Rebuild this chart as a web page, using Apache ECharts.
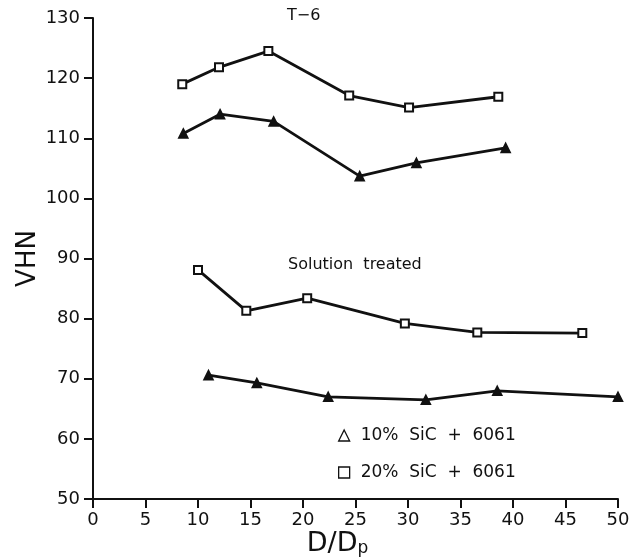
<!DOCTYPE html>
<html>
<head>
<meta charset="utf-8">
<script src="https://cdn.jsdelivr.net/npm/echarts@6/dist/echarts.min.js"></script>
<style>
html,body{margin:0;padding:0;background:#fff;}
#main{width:641px;height:559px;}
</style>
</head>
<body>
<div id="main"></div>
<script>
// D/Dp values and hardness
var xT6_20 = [8.5, 12.0, 16.7, 24.4, 30.1, 38.6];
var yT6_20 = [119.0, 121.8, 124.5, 117.1, 115.1, 116.9];
var xT6_10 = [8.6, 12.1, 17.2, 25.4, 30.8, 39.3];
var yT6_10 = [110.8, 114.0, 112.8, 103.7, 105.9, 108.4];
var xST_20 = [10.0, 14.6, 20.4, 29.7, 36.6, 46.6];
var yST_20 = [88.1, 81.3, 83.4, 79.2, 77.7, 77.6];
var xST_10 = [11.0, 15.6, 22.4, 31.7, 38.5, 50.0];
var yST_10 = [70.6, 69.3, 67.0, 66.5, 68.0, 67.0];

var name10 = '10%  SiC  +  6061';
var name20 = '20%  SiC  +  6061';
var font = 'DejaVu Sans';

function pairs(xs, ys) {
    var out = [];
    for (var i = 0; i < xs.length; i++) {
        out.push([xs[i], ys[i]]);
    }
    return out;
}

function line(name, xs, ys, sym, size) {
    return {
        name: name,
        type: 'line',
        data: pairs(xs, ys),
        symbol: sym,
        symbolSize: size,
        clip: false,
        lineStyle: {color: '#111', width: 2.8},
        itemStyle: {color: '#111', borderColor: '#111', borderWidth: 1.6},
        emphasis: {disabled: true}
    };
}

var myChart = echarts.init(document.getElementById('main'));
var option = {
    backgroundColor: '#fff',
    animation: false,
    textStyle: {fontFamily: font, color: '#111'},
    grid: {left: 93, top: 18, right: 23, bottom: 60, containLabel: false, outerBoundsMode: 'none'},
    legend: {
        orient: 'vertical',
        left: 333,
        top: 422,
        itemGap: 20,
        itemWidth: 11,
        itemHeight: 11,
        textStyle: {fontFamily: font, fontSize: 17, color: '#111', padding: [0, 0, 0, 6]},
        data: [
            {name: name10, icon: 'triangle', itemStyle: {color: '#fff', borderColor: '#111', borderWidth: 1.3}},
            {name: name20, icon: 'rect', itemStyle: {color: '#fff', borderColor: '#111', borderWidth: 1.3}}
        ]
    },
    xAxis: {
        type: 'value',
        min: 0,
        max: 50,
        interval: 5,
        name: 'D/D{sub|p}',
        nameLocation: 'middle',
        nameGap: 31,
        nameMoveOverlap: false,
        nameTextStyle: {
            fontFamily: font, fontSize: 27, color: '#111', padding: [0, 36, 0, 0],
            rich: {sub: {fontFamily: font, fontSize: 17, color: '#111', verticalAlign: 'bottom', padding: [10, 0, 0, 0]}}
        },
        axisLine: {lineStyle: {color: '#111', width: 2}},
        axisTick: {inside: false, length: 9, lineStyle: {color: '#111', width: 2}},
        axisLabel: {fontFamily: font, fontSize: 18, color: '#111', margin: 12},
        splitLine: {show: false}
    },
    yAxis: {
        type: 'value',
        min: 50,
        max: 130,
        interval: 10,
        name: 'VHN',
        nameLocation: 'middle',
        nameGap: 52,
        nameMoveOverlap: false,
        nameTextStyle: {fontFamily: font, fontSize: 26, color: '#111'},
        axisLine: {show: true, lineStyle: {color: '#111', width: 2}},
        axisTick: {show: true, inside: false, length: 9, lineStyle: {color: '#111', width: 2}},
        axisLabel: {fontFamily: font, fontSize: 18, color: '#111', margin: 13},
        splitLine: {show: false}
    },
    graphic: [
        {type: 'text', left: 287, top: 8, style: {text: 'T\u22126', font: '16px "DejaVu Sans"', fill: '#111'}},
        {type: 'text', left: 288, top: 257, style: {text: 'Solution  treated', font: '16px "DejaVu Sans"', fill: '#111'}}
    ],
    series: [
        line(name20, xT6_20, yT6_20, 'emptyRect', 8),
        line(name10, xT6_10, yT6_10, 'triangle', 9),
        line(name20, xST_20, yST_20, 'emptyRect', 8),
        line(name10, xST_10, yST_10, 'triangle', 9)
    ]
};
myChart.setOption(option);
</script>
</body>
</html>
